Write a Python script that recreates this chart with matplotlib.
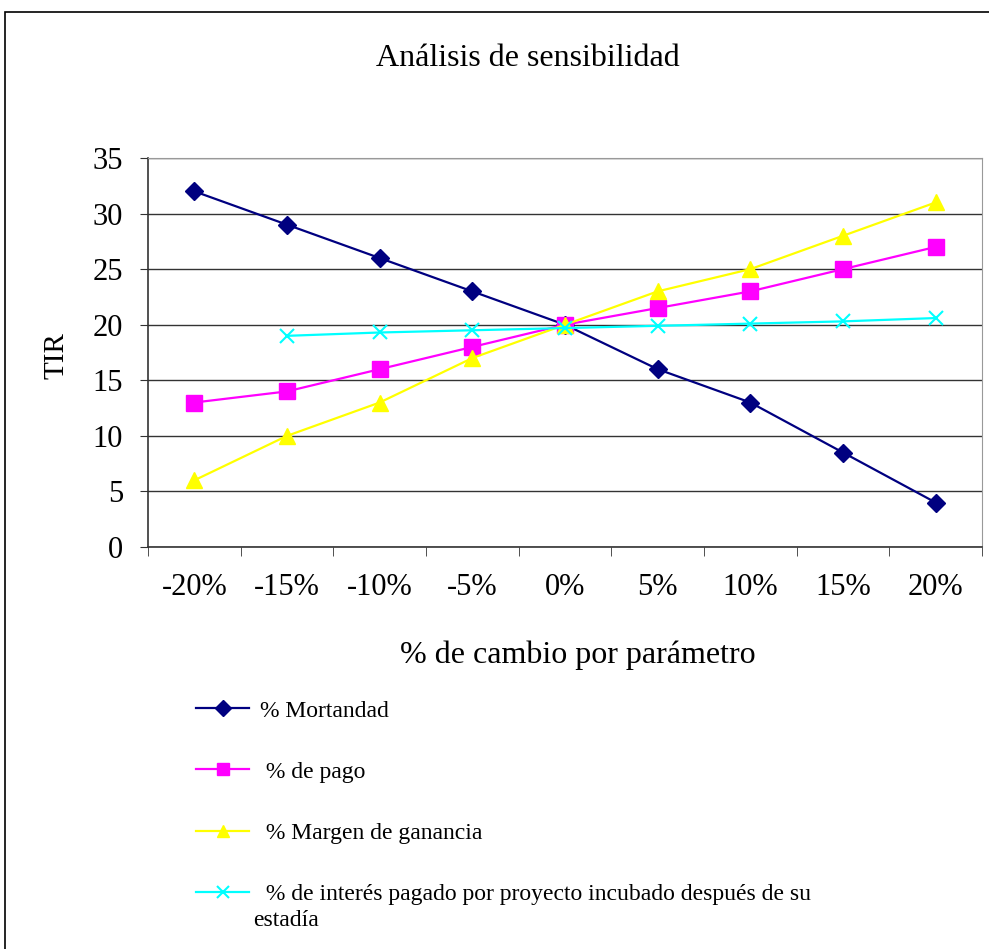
import matplotlib.pyplot as plt
from matplotlib.patches import Rectangle
import numpy as np

categories = ['-20%', '-15%', '-10%', '-5%', '0%', '5%', '10%', '15%', '20%']
mortandad = [32, 29, 26, 23, 20, 16, 13, 8.5, 4]
pago = [13, 14, 16, 18, 20, 21.5, 23, 25, 27]
margen = [6, 10, 13, 17, 20, 23, 25, 28, 31]
interes = [np.nan, 19.0, 19.3, 19.5, 19.7, 19.9, 20.1, 20.3, 20.6]

labels = ['% Mortandad', ' % de pago', ' % Margen de ganancia',
          ' % de interés pagado por proyecto incubado después de su']

plt.rcParams['font.family'] = ['Liberation Serif', 'DejaVu Serif']

W, H = 989, 949
fig = plt.figure(figsize=(W / 100, H / 100), dpi=100)
ax = fig.add_axes([148 / W, 1 - 547 / H, (982 - 148) / W, (547 - 158) / H])

x = np.arange(len(categories))
l1, = ax.plot(x, mortandad, color='#000080', lw=1.6, marker='D', ms=9)
l2, = ax.plot(x, pago, color='#FF00FF', lw=1.6, marker='s', ms=11)
l3, = ax.plot(x, margen, color='#FFFF00', lw=1.6, marker='^', ms=11)
l4, = ax.plot(x, interes, color='#00FFFF', lw=1.6, marker='x', ms=10, mew=1.5)

ax.set_xlim(-0.5, len(categories) - 0.5)
ax.set_ylim(0, 35)
ax.set_yticks(range(0, 36, 5))
ax.set_xticks(x)
ax.set_xticklabels(categories)
ax.set_xticks(np.arange(-0.5, len(categories), 1), minor=True)
ax.tick_params(axis='x', which='major', length=0, pad=19, labelsize=22)
ax.tick_params(axis='x', which='minor', length=6.5, direction='out', color='#333333')
ax.tick_params(axis='y', length=6, direction='out', pad=12, labelsize=22,
               color='#333333')
ax.yaxis.grid(True, color='#333333', lw=1)
ax.set_axisbelow(True)
for s in ['top', 'right']:
    ax.spines[s].set_color('#999999')
for s in ['left', 'bottom']:
    ax.spines[s].set_color('#333333')
    ax.spines[s].set_linewidth(1.2)

fig.text(56 / W, 1 - 356 / H, 'TIR', fontsize=21, rotation=90,
         ha='center', va='center')
fig.text(578 / W, 1 - 655 / H, '% de cambio por parámetro', fontsize=23,
         ha='center', va='center')
fig.text(528 / W, 1 - 58 / H, 'Análisis de sensibilidad', fontsize=23,
         ha='center', va='center')

leg = fig.legend([l1, l2, l3, l4], labels, loc='upper left',
                 bbox_to_anchor=(196 / W, 1 - 700 / H), frameon=False,
                 fontsize=17, labelspacing=1.68, handlelength=2.25,
                 handletextpad=0.45, borderpad=0, borderaxespad=0,
                 markerscale=0.85)
fig.text(253 / W, 1 - 921 / H, 'estadía', fontsize=17, ha='left', va='center')

fig.patches.append(Rectangle((5 / W, -0.01), 1.0, 1 - 12 / H + 0.01,
                             transform=fig.transFigure, fill=False,
                             edgecolor='black', lw=1.2))

fig.savefig('out.png', dpi=100)
